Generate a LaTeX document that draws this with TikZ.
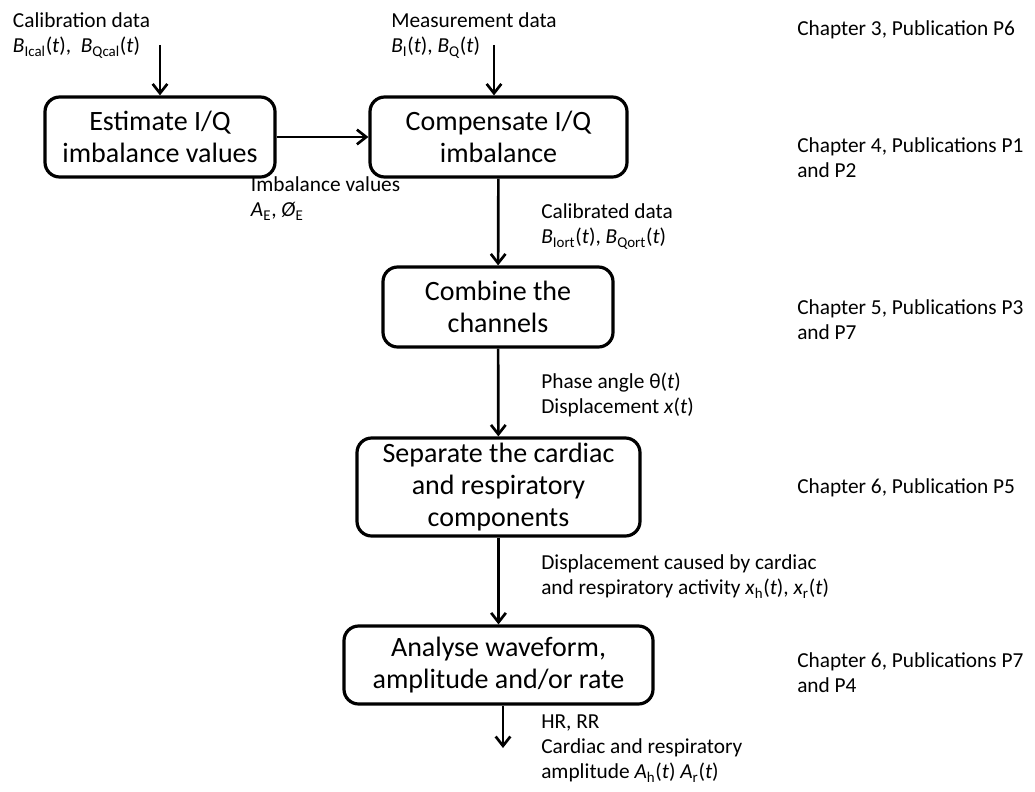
\documentclass[tikz,border=0pt]{standalone}
\usepackage{fontspec}
\setmainfont{Carlito}
\usetikzlibrary{arrows.meta,calc}
\newcommand{\vsig}[2]{\textit{#1}\textsubscript{#2}}
\newcommand{\tv}{(\textit{t})}

\begin{document}
\begin{tikzpicture}[x=0.75pt,y=-0.75pt,
  stage/.style={draw=black,line width=2.4pt,rounded corners=11pt,align=center,
    font=\fontsize{21}{24}\selectfont,inner sep=0pt},
  note/.style={anchor=north west,inner sep=0pt,align=left,
    font=\fontsize{16}{19}\selectfont,execute at begin node=\strut},
  flow/.style={line width=2pt,-{Straight Barb[length=7pt,width=11pt]}}]
\useasboundingbox (0,0) rectangle (1035,792);

% processing stages
\node[stage,minimum width=172.5pt,minimum height=60pt] (est) at (160,137) {Estimate I/Q\\imbalance values};
\node[stage,minimum width=192.75pt,minimum height=60pt] (comp) at (498.5,137) {Compensate I/Q\\imbalance};
\node[stage,minimum width=172.5pt,minimum height=60pt] (comb) at (498,307) {Combine the\\channels};
\node[stage,minimum width=212.25pt,minimum height=73.5pt] (sep) at (498.5,487) {Separate the cardiac\\and respiratory\\components};
\node[stage,minimum width=231.75pt,minimum height=58.5pt] (ana) at (498.5,665) {Analyse waveform,\\amplitude and/or rate};

% data labels
\node[note] (calib) at (12.7,12.3) {Calibration data\\\vsig{B}{Ical}\tv,\ \ \vsig{B}{Qcal}\tv};
\node[note] (meas) at (391,12.3) {Measurement data\\\vsig{B}{I}\tv, \vsig{B}{Q}\tv};
\node[note] (imbal) at (250.7,176.3) {Imbalance values\\\vsig{A}{E}, \vsig{Ø}{E}};
\node[note] (cal) at (541,203.3) {Calibrated data\\\vsig{B}{Iort}\tv, \vsig{B}{Qort}\tv};
\node[note] (phase) at (541,372.3) {Phase angle θ\tv\\Displacement \textit{x}\tv};
\node[note] (disp) at (541,554.3) {Displacement caused by cardiac\\and respiratory activity \vsig{x}{h}\tv, \vsig{x}{r}\tv};
\node[note] (rates) at (541,714.3) {HR, RR\\Cardiac and respiratory\\amplitude \vsig{A}{h}\tv{} \vsig{A}{r}\tv};

% chapters
\node[note] (ch3) at (797,17.3) {Chapter 3, Publication P6};
\node[note] (ch4) at (797,137.3) {Chapter 4, Publications P1\\and P2};
\node[note] (ch5) at (797,299.3) {Chapter 5, Publications P3\\and P7};
\node[note] (ch6a) at (797,475.3) {Chapter 6, Publication P5};
\node[note] (ch6b) at (797,652.3) {Chapter 6, Publications P7\\and P4};

% connectors
\coordinate (cin) at (160,45);
\coordinate (min) at (494,45);
\coordinate (out) at (503,748);
\draw[flow] (cin) -- (est);
\draw[flow] (min) -- (min |- comp.north);
\draw[flow] (est) -- (comp);
\draw[flow] (comp) -- (comb);
\draw[flow] (comb) -- (sep);
\draw[flow] (sep) -- (ana);
\draw[flow] (ana.south -| out) -- (out);
\end{tikzpicture}
\end{document}
